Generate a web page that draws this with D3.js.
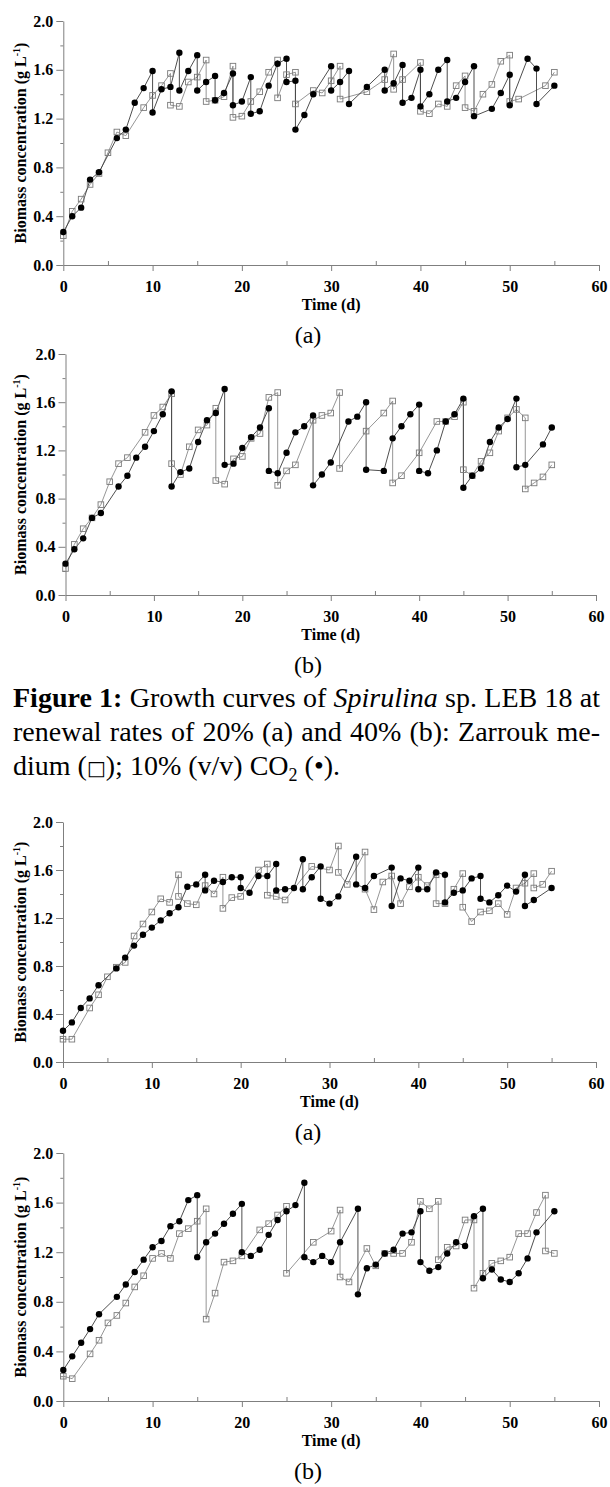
<!DOCTYPE html>
<html>
<head>
<meta charset="utf-8">
<script src="https://cdn.jsdelivr.net/npm/d3@7"></script>
<style>
  body { margin: 0; background: #fff; }
</style>
</head>
<body>
<svg id="fig" width="610" height="1487"></svg>
<script>
// axis ticks
var xTicks = [0, 10, 20, 30, 40, 50, 60];
var xMinor = [5, 15, 25, 35, 45, 55];
var yTicks = [0, 0.4, 0.8, 1.2, 1.6, 2.0];
var yMinor = [0.2, 0.6, 1.0, 1.4, 1.8];

// Figure 1 (a) - Zarrouk (squares) and 10% CO2 (circles), repeated days = renewal drop
var f1aSqDay = [0,1,2,3,4,5,6,7,9,10,11,12,12,13,14,15,16,16,17,18,19,19,20,21,22,23,24,24,25,26,26,28,29,30,31,31,34,36,37,37,38,40,40,41,42,43,44,45,45,46,47,48,49,50,50,51,54,55];
var f1aSq    = [0.24,0.44,0.54,0.66,0.75,0.92,1.09,1.06,1.29,1.39,1.47,1.57,1.31,1.30,1.50,1.54,1.68,1.34,1.35,1.38,1.63,1.21,1.22,1.34,1.42,1.58,1.68,1.37,1.56,1.58,1.32,1.43,1.41,1.51,1.63,1.36,1.42,1.52,1.73,1.44,1.52,1.66,1.26,1.24,1.32,1.30,1.47,1.55,1.29,1.26,1.40,1.48,1.67,1.72,1.34,1.36,1.47,1.58];
var f1aCiDay = [0,1,2,3,4,6,7,8,9,10,10,11,12,13,13,14,15,15,16,17,17,18,19,19,20,21,21,22,23,24,25,25,26,26,27,28,30,30,31,32,32,34,36,36,37,38,38,39,40,40,41,42,43,43,44,45,46,46,48,49,50,50,52,53,53,55];
var f1aCi    = [0.27,0.40,0.47,0.70,0.76,1.04,1.11,1.33,1.45,1.59,1.25,1.44,1.46,1.74,1.43,1.59,1.72,1.43,1.50,1.55,1.35,1.41,1.57,1.31,1.34,1.54,1.24,1.26,1.47,1.65,1.69,1.50,1.51,1.11,1.23,1.40,1.63,1.43,1.50,1.59,1.32,1.46,1.60,1.43,1.49,1.64,1.33,1.37,1.60,1.30,1.40,1.60,1.68,1.34,1.37,1.50,1.63,1.22,1.28,1.41,1.56,1.31,1.69,1.61,1.32,1.47];

// Figure 1 (b)
var f1bSqDay = [0,1,2,3,4,5,6,7,9,10,11,12,12,13,14,15,16,17,17,18,19,20,21,22,23,24,24,25,26,28,29,30,31,31,34,36,37,37,38,40,42,43,44,45,45,46,47,48,49,50,51,52,52,53,54,55];
var f1bSq    = [0.22,0.42,0.55,0.64,0.75,0.94,1.09,1.14,1.35,1.49,1.56,1.67,1.09,1.00,1.23,1.37,1.41,1.55,0.95,0.92,1.13,1.15,1.30,1.34,1.64,1.68,0.91,1.03,1.08,1.45,1.49,1.51,1.68,1.05,1.36,1.51,1.61,0.93,0.99,1.18,1.44,1.44,1.48,1.60,1.04,0.99,1.11,1.18,1.36,1.47,1.54,1.47,0.88,0.93,0.98,1.08];
var f1bCiDay = [0,1,2,3,4,6,7,8,9,10,11,12,12,13,14,15,16,17,18,18,19,20,21,22,23,23,24,25,26,27,28,28,29,30,32,33,34,34,36,37,38,39,40,40,41,42,43,44,45,45,46,47,48,49,50,51,51,52,54,55];
var f1bCi    = [0.26,0.38,0.47,0.64,0.68,0.90,0.99,1.14,1.23,1.36,1.50,1.69,0.90,1.02,1.05,1.27,1.45,1.51,1.71,1.08,1.09,1.22,1.31,1.39,1.55,1.03,1.01,1.18,1.35,1.40,1.49,0.91,1.00,1.10,1.44,1.48,1.60,1.04,1.03,1.30,1.40,1.50,1.58,1.03,1.01,1.20,1.44,1.50,1.63,0.89,0.99,1.05,1.27,1.39,1.46,1.63,1.06,1.08,1.25,1.39];

// Figure 2 (a)
var f2aSqDay = [0,1,3,4,5,6,7,8,9,10,11,12,13,13,14,15,16,17,18,18,19,20,22,23,23,24,25,28,30,31,31,32,34,34,35,36,37,38,39,40,41,42,42,43,44,45,45,46,47,48,49,50,51,52,53,53,54,55];
var f2aSq    = [0.19,0.19,0.45,0.56,0.71,0.79,0.83,1.05,1.15,1.25,1.36,1.33,1.56,1.38,1.32,1.31,1.47,1.40,1.54,1.28,1.37,1.38,1.60,1.65,1.39,1.38,1.35,1.63,1.60,1.80,1.58,1.48,1.75,1.44,1.27,1.50,1.55,1.32,1.46,1.54,1.47,1.56,1.32,1.32,1.44,1.57,1.29,1.17,1.25,1.26,1.32,1.23,1.45,1.49,1.57,1.45,1.48,1.59];
var f2aCiDay = [0,1,2,3,4,6,7,8,9,10,11,12,13,14,15,16,16,17,18,19,20,20,21,22,23,24,24,25,26,27,27,28,29,29,30,31,33,33,34,35,37,37,38,39,40,40,41,42,43,43,44,45,46,47,47,48,49,50,51,52,52,53,55];
var f2aCi    = [0.26,0.33,0.45,0.53,0.64,0.78,0.87,0.97,1.06,1.12,1.18,1.24,1.29,1.46,1.48,1.56,1.43,1.51,1.50,1.54,1.54,1.45,1.41,1.55,1.55,1.65,1.43,1.44,1.45,1.69,1.44,1.54,1.63,1.36,1.32,1.38,1.71,1.48,1.45,1.55,1.62,1.30,1.53,1.51,1.62,1.44,1.44,1.58,1.56,1.33,1.41,1.43,1.53,1.55,1.36,1.33,1.39,1.47,1.42,1.56,1.30,1.35,1.45];

// Figure 2 (b)
var f2bSqDay = [0,1,3,4,5,6,7,8,9,10,11,12,13,14,15,16,16,17,18,19,20,22,23,24,25,25,28,30,31,31,32,34,35,36,37,38,39,40,41,42,42,43,44,45,46,46,47,48,49,50,51,52,53,54,54,55];
var f2bSq    = [0.20,0.18,0.38,0.49,0.63,0.69,0.79,0.92,1.01,1.15,1.19,1.15,1.35,1.39,1.45,1.55,0.66,0.87,1.12,1.13,1.17,1.38,1.43,1.50,1.57,1.03,1.28,1.37,1.54,1.00,0.96,1.23,1.09,1.19,1.19,1.19,1.28,1.61,1.55,1.61,1.14,1.24,1.25,1.46,1.46,0.91,1.03,1.11,1.13,1.16,1.35,1.35,1.52,1.66,1.21,1.19];
var f2bCiDay = [0,1,2,3,4,6,7,8,9,10,11,12,13,14,15,15,16,17,18,19,20,20,21,22,23,24,25,26,27,27,28,29,30,31,33,33,34,35,36,37,38,39,40,40,41,42,43,44,45,46,47,47,48,49,50,51,52,53,55];
var f2bCi    = [0.25,0.36,0.47,0.58,0.70,0.84,0.94,1.04,1.14,1.24,1.29,1.41,1.45,1.62,1.66,1.16,1.28,1.35,1.43,1.51,1.59,1.20,1.17,1.22,1.34,1.46,1.53,1.58,1.76,1.16,1.12,1.17,1.12,1.28,1.55,0.86,1.07,1.10,1.19,1.22,1.35,1.36,1.53,1.12,1.05,1.08,1.19,1.28,1.25,1.49,1.55,0.99,1.06,0.98,0.96,1.03,1.15,1.36,1.53];

var serif = "'Liberation Serif','Times New Roman',serif";
var axisGrey = "#7f7f7f";
var svg = d3.select("#fig");

var panels = [
  {top: 21,   bottom: 265,  left: 63.3, right: 599, sqD: f1aSqDay, sq: f1aSq, ciD: f1aCiDay, ci: f1aCi, tag: "(a)"},
  {top: 354,  bottom: 595,  left: 65.5, right: 596, sqD: f1bSqDay, sq: f1bSq, ciD: f1bCiDay, ci: f1bCi, tag: "(b)"},
  {top: 822,  bottom: 1062, left: 63,   right: 596, sqD: f2aSqDay, sq: f2aSq, ciD: f2aCiDay, ci: f2aCi, tag: "(a)"},
  {top: 1153, bottom: 1401, left: 63.3, right: 599, sqD: f2bSqDay, sq: f2bSq, ciD: f2bCiDay, ci: f2bCi, tag: "(b)"}
];

function styleAxis(sel) {
  sel.select(".domain").attr("stroke", axisGrey);
  sel.selectAll(".tick line").attr("stroke", axisGrey);
  sel.selectAll("text")
    .attr("fill", "#000")
    .style("font-family", serif)
    .style("font-weight", "bold")
    .style("font-size", "16px");
}

function drawPanel(p) {
  var x = d3.scaleLinear().domain([0, 60]).range([p.left, p.right]);
  var y = d3.scaleLinear().domain([0, 2]).range([p.bottom, p.top]);
  var g = svg.append("g");

  // minor ticks first
  g.append("g").attr("transform", "translate(0," + p.bottom + ")")
    .call(d3.axisTop(x).tickValues(xMinor).tickSize(4).tickFormat(""))
    .call(styleAxis).select(".domain").remove();
  g.append("g").attr("transform", "translate(" + p.left + ",0)")
    .call(d3.axisLeft(y).tickValues(yMinor).tickSize(3).tickFormat(""))
    .call(styleAxis).select(".domain").remove();

  g.append("g").attr("transform", "translate(0," + p.bottom + ")")
    .call(d3.axisBottom(x).tickValues(xTicks).tickSize(6).tickSizeOuter(0).tickPadding(10).tickFormat(d3.format("d")))
    .call(styleAxis);
  g.append("g").attr("transform", "translate(" + p.left + ",0)")
    .call(d3.axisLeft(y).tickValues(yTicks).tickSize(7).tickSizeOuter(0).tickPadding(3).tickFormat(d3.format(".1f")))
    .call(styleAxis);

  // axis titles
  g.append("text")
    .attr("x", (p.left + p.right) / 2)
    .attr("y", p.bottom + 45)
    .attr("text-anchor", "middle")
    .style("font-family", serif).style("font-weight", "bold").style("font-size", "16px")
    .text("Time (d)");

  var yl = g.append("text")
    .attr("transform", "translate(26," + (p.top + p.bottom) / 2 + ") rotate(-90)")
    .attr("text-anchor", "middle")
    .style("font-family", serif).style("font-weight", "bold").style("font-size", "16px");
  yl.append("tspan").text("Biomass concentration (g L");
  yl.append("tspan").attr("dy", -6).style("font-size", "10px").text("-1");
  yl.append("tspan").attr("dy", 6).text(")");

  g.append("text")
    .attr("x", 308)
    .attr("y", p.bottom + 78)
    .attr("text-anchor", "middle")
    .style("font-family", serif).style("font-size", "24px")
    .text(p.tag);

  var line = d3.line().x(function(d) { return x(d[0]); }).y(function(d) { return y(d[1]); });
  var sqPts = d3.zip(p.sqD, p.sq);
  var ciPts = d3.zip(p.ciD, p.ci);

  g.append("path").datum(sqPts).attr("d", line)
    .attr("fill", "none").attr("stroke", "#8a8a8a").attr("stroke-width", 0.9);
  g.append("path").datum(ciPts).attr("d", line)
    .attr("fill", "none").attr("stroke", "#3a3a3a").attr("stroke-width", 0.9);

  g.selectAll(".sq").data(sqPts).enter().append("rect")
    .attr("class", "sq")
    .attr("x", function(d) { return x(d[0]) - 2.8; })
    .attr("y", function(d) { return y(d[1]) - 2.8; })
    .attr("width", 5.6).attr("height", 5.6)
    .attr("fill", "none").attr("stroke", "#7a7a7a").attr("stroke-width", 0.9);

  g.selectAll(".ci").data(ciPts).enter().append("circle")
    .attr("class", "ci")
    .attr("cx", function(d) { return x(d[0]); })
    .attr("cy", function(d) { return y(d[1]); })
    .attr("r", 3.2)
    .attr("fill", "#000");
}

panels.forEach(drawPanel);

// caption, justified lines
function justify(y, words, x0, x1) {
  var nodes = words.map(function(w) {
    var t = svg.append("text").attr("y", y)
      .style("font-family", serif).style("font-size", "28px");
    t.append("tspan").text(w.t)
      .style("font-weight", w.b ? "bold" : null)
      .style("font-style", w.i ? "italic" : null);
    return t;
  });
  var widths = nodes.map(function(n) { return n.node().getComputedTextLength(); });
  var gap = (x1 - x0 - d3.sum(widths)) / (nodes.length - 1);
  var cx = x0;
  nodes.forEach(function(n, i) { n.attr("x", cx); cx += widths[i] + gap; });
}

justify(707, [
  {t: "Figure", b: 1}, {t: "1:", b: 1}, {t: "Growth"}, {t: "curves"}, {t: "of"},
  {t: "Spirulina", i: 1}, {t: "sp."}, {t: "LEB"}, {t: "18"}, {t: "at"}
], 13, 600);
justify(741, "renewal rates of 20% (a) and 40% (b): Zarrouk me-".split(" ").map(function(s) { return {t: s}; }), 13, 600);

var c3 = svg.append("text").attr("x", 13).attr("y", 775)
  .style("font-family", serif).style("font-size", "28px");
c3.append("tspan").text("dium (");
c3.append("tspan").style("font-family", "'DejaVu Sans',sans-serif").style("font-size", "20px").text("\u25A1");
c3.append("tspan").text("); 10% (v/v) CO");
c3.append("tspan").attr("dy", 6).style("font-size", "18px").text("2");
c3.append("tspan").attr("dy", -6).text(" (\u2022).");
</script>
</body>
</html>
